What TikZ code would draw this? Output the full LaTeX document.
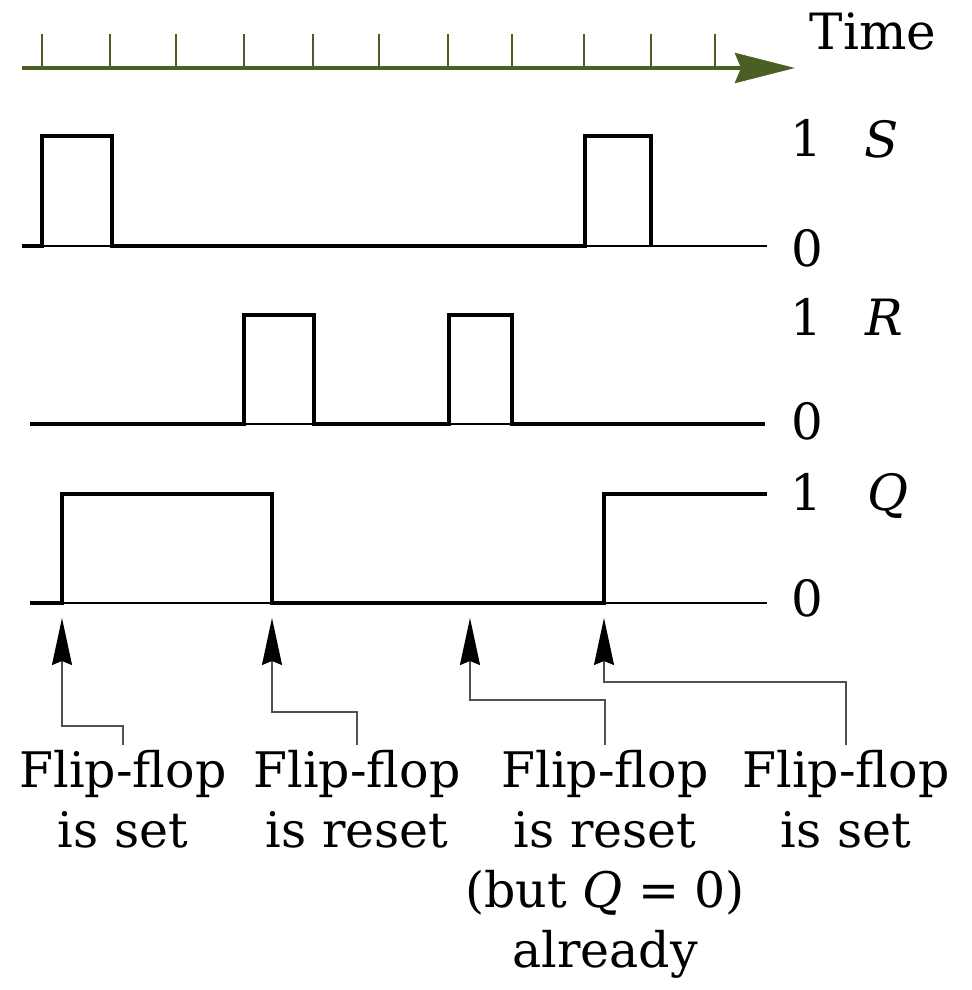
\documentclass[tikz,border=0pt]{standalone}
\usepackage{fontspec}
\newfontfamily\serifface{DejaVu Serif}
\usetikzlibrary{arrows.meta}
\begin{document}
\begin{tikzpicture}[x=0.5pt,y=-0.5pt]
\useasboundingbox (0,0) rectangle (971,990);
\definecolor{axisgreen}{HTML}{4B5E24}
\definecolor{conngray}{HTML}{505050}
\tikzset{
  sig/.style={line width=2.4pt, line join=miter},
  baseline0/.style={line width=1pt},
  tickline/.style={draw=axisgreen, line width=0.8pt},
  lbl/.style={font=\serifface\fontsize{25pt}{30pt}\selectfont, inner sep=0pt},
  note/.style={font=\serifface\fontsize{24.5pt}{30pt}\selectfont, align=center, inner sep=2.5pt, anchor=north},
  conn/.style={draw=conngray, line width=0.8pt, -{Stealth[length=23.5pt,width=10pt,inset=2pt,black]}}
}
\node[lbl, anchor=base] (time) at (873,50) {Time};
\node[note] (lab1) at (123,745) {Flip-flop\\is set};
\node[note] (lab2) at (357,745) {Flip-flop\\is reset};
\node[note] (lab3) at (605,745) {Flip-flop\\is reset\\(but \textit{Q} = 0)\\already};
\node[note] (lab4) at (846,745) {Flip-flop\\is set};
\node[lbl] (s1) at (806,138) {1};
\node[lbl] (s0) at (807,248) {0};
\node[lbl, anchor=base] (sn) at (882,157) {\textit{S}};
\node[lbl] (r1) at (806,317) {1};
\node[lbl] (r0) at (807,421) {0};
\node[lbl, anchor=base] (rn) at (884,335) {\textit{R}};
\node[lbl] (q1) at (806,492) {1};
\node[lbl] (q0) at (807,598) {0};
\node[lbl, anchor=base] (qn) at (888,510) {\textit{Q}};

% time axis
\coordinate (a0) at (22,68);
\coordinate (a1) at (795,68);
\foreach \x in {42,110,176,244,313,379,448,512,584,651,715}
  \draw[tickline] (\x,34) -- (\x,68);
\draw[draw=axisgreen, line width=2pt, -{Stealth[length=30pt,width=15pt,inset=3pt,fill=axisgreen]}] (a0) -- (a1);

% S
\draw[baseline0] (22,246) -- (767,246);
\draw[sig] (22,246) -- (42,246) -- (42,136) -- (112,136) -- (112,246) -- (585,246) -- (585,136) -- (651,136) -- (651,246);
% R
\draw[baseline0] (30,424) -- (765,424);
\draw[sig] (30,424) -- (244,424) -- (244,315) -- (314,315) -- (314,424) -- (449,424) -- (449,315) -- (512,315) -- (512,424) -- (765,424);
% Q
\draw[baseline0] (30,603) -- (767,603);
\draw[sig] (30,603) -- (62,603) -- (62,494) -- (272,494) -- (272,603) -- (604,603) -- (604,494) -- (767,494);

% event points
\coordinate (t1) at (62,618);
\coordinate (t2) at (272,618);
\coordinate (t3) at (470,618);
\coordinate (t4) at (604,618);

\draw[conn] (lab1.north) -- ++(0,-19) -| (t1);
\draw[conn] (lab2.north) -- ++(0,-33) -| (t2);
\draw[conn] (lab3.north) -- ++(0,-45) -| (t3);
\draw[conn] (lab4.north) -- ++(0,-63) -| (t4);
\end{tikzpicture}
\end{document}
